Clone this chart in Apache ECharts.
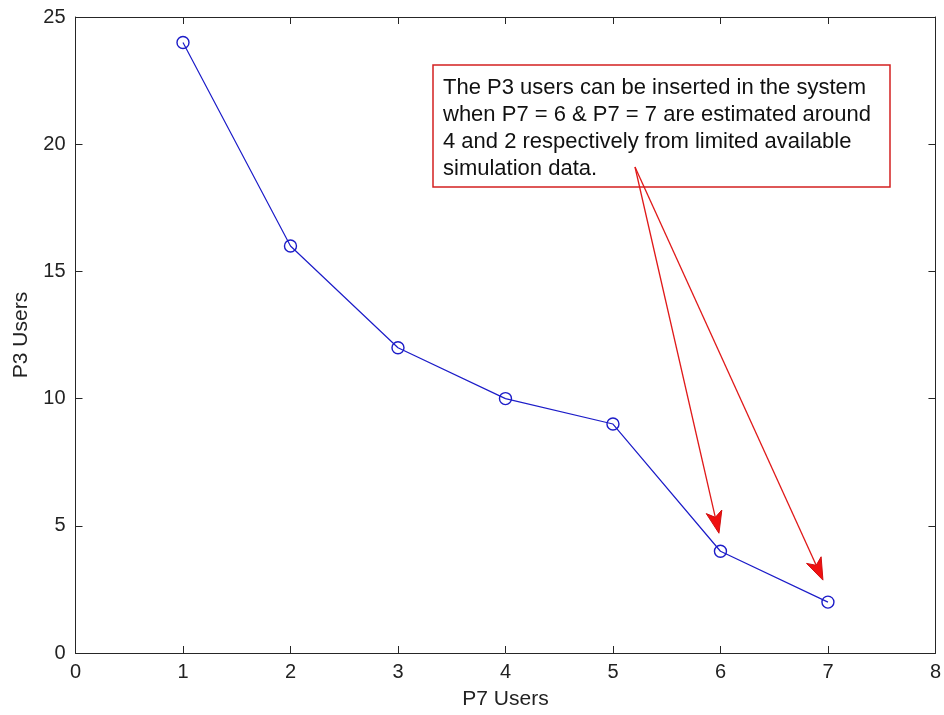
<!DOCTYPE html>
<html>
<head>
<meta charset="utf-8">
<script src="https://cdn.jsdelivr.net/npm/echarts@6/dist/echarts.min.js"></script>
<style>
  html, body { margin: 0; padding: 0; background: #fff; }
  #chart { width: 944px; height: 715px; }
</style>
</head>
<body>
<div id="chart"></div>
<script>
// P7 users on the x axis, P3 users that fit for each of them
const p7Users = [1, 2, 3, 4, 5, 6, 7];
const p3Users = [24, 16, 12, 10, 9, 4, 2];
const xTicks = [0, 1, 2, 3, 4, 5, 6, 7, 8];
const yTicks = [0, 5, 10, 15, 20, 25];
const noteLines = [
  'The P3 users can be inserted in the system',
  'when P7 = 6 & P7 = 7 are estimated around',
  '4 and 2 respectively from limited available',
  'simulation data.'
];
// the two points the note refers to (index into the series)
const notedPoints = [5, 6];

const FONT = '"Liberation Sans", Arial, sans-serif';
const AX = '#262626';

const chart = echarts.init(document.getElementById('chart'), null, { renderer: 'canvas' });

const frameAxis = {
  axisLine: { show: true, onZero: false, lineStyle: { color: AX, width: 1 } },
  axisTick: { show: true, inside: true, length: 7, lineStyle: { color: AX } },
  splitLine: { show: false }
};

chart.setOption({
  backgroundColor: '#fff',
  animation: false,
  grid: { left: 75.5, top: 17, right: 6, bottom: 61, containLabel: false },
  xAxis: [
    Object.assign({
      type: 'value', min: xTicks[0], max: xTicks[xTicks.length - 1], interval: 1,
      position: 'bottom',
      name: 'P7 Users', nameLocation: 'middle', nameGap: 36,
      nameTextStyle: { fontFamily: FONT, fontSize: 21, color: '#222' },
      axisLabel: { show: true, margin: 9, fontFamily: FONT, fontSize: 20, color: '#222' }
    }, frameAxis),
    Object.assign({
      type: 'value', min: xTicks[0], max: xTicks[xTicks.length - 1], interval: 1,
      position: 'top', axisLabel: { show: false }
    }, frameAxis)
  ],
  yAxis: [
    Object.assign({
      type: 'value', min: yTicks[0], max: yTicks[yTicks.length - 1], interval: 5,
      position: 'left',
      name: 'P3 Users', nameLocation: 'middle', nameGap: 44,
      nameTextStyle: { fontFamily: FONT, fontSize: 21, color: '#222' },
      axisLabel: { show: true, margin: 10, fontFamily: FONT, fontSize: 20, color: '#222' }
    }, frameAxis),
    Object.assign({
      type: 'value', min: yTicks[0], max: yTicks[yTicks.length - 1], interval: 5,
      position: 'right', axisLabel: { show: false }
    }, frameAxis)
  ],
  series: [{
    type: 'line',
    data: p7Users.map((x, i) => [x, p3Users[i]]),
    symbol: 'circle',
    symbolSize: 12,
    showAllSymbol: true,
    lineStyle: { color: '#1c1cc8', width: 1.2 },
    itemStyle: { color: 'rgba(0,0,0,0)', borderColor: '#1c1cc8', borderWidth: 1.4 },
    emphasis: { disabled: true },
    z: 3
  }]
});

// Text box with two arrows pointing at the noted points
function drawNote() {
  const box = { x: 433, y: 65, w: 457, h: 122 };
  const origin = [635, 167];
  const tipOffsets = [[-1.5, -18], [-5, -22]];
  const elements = [];

  elements.push({
    type: 'rect',
    shape: { x: box.x, y: box.y, width: box.w, height: box.h },
    style: { fill: '#fff', stroke: '#d42020', lineWidth: 1.5 },
    z: 10
  });
  elements.push({
    type: 'text',
    x: box.x + 10, y: box.y + 10,
    style: {
      text: noteLines.join('\n'),
      font: '22px ' + FONT,
      fill: '#111',
      lineHeight: 26.7
    },
    z: 11
  });

  notedPoints.forEach((idx, k) => {
    const p = chart.convertToPixel({ xAxisIndex: 0, yAxisIndex: 0 }, [p7Users[idx], p3Users[idx]]);
    const tip = [p[0] + tipOffsets[k][0], p[1] + tipOffsets[k][1]];
    const dx = tip[0] - origin[0], dy = tip[1] - origin[1];
    const len = Math.sqrt(dx * dx + dy * dy);
    const ux = dx / len, uy = dy / len;
    const nx = -uy, ny = ux;
    const hl = 22, hw = 8;
    const back = [tip[0] - ux * hl, tip[1] - uy * hl];
    const notch = [tip[0] - ux * hl * 0.74, tip[1] - uy * hl * 0.74];
    elements.push({
      type: 'line',
      shape: { x1: origin[0], y1: origin[1], x2: notch[0], y2: notch[1] },
      style: { stroke: '#e01818', lineWidth: 1.3 },
      z: 12
    });
    elements.push({
      type: 'polygon',
      shape: {
        points: [
          tip,
          [back[0] + nx * hw, back[1] + ny * hw],
          notch,
          [back[0] - nx * hw, back[1] - ny * hw]
        ]
      },
      style: { fill: '#f01010', stroke: '#d01010', lineWidth: 1 },
      z: 12
    });
  });

  chart.setOption({ graphic: elements });
}
drawNote();
</script>
</body>
</html>
